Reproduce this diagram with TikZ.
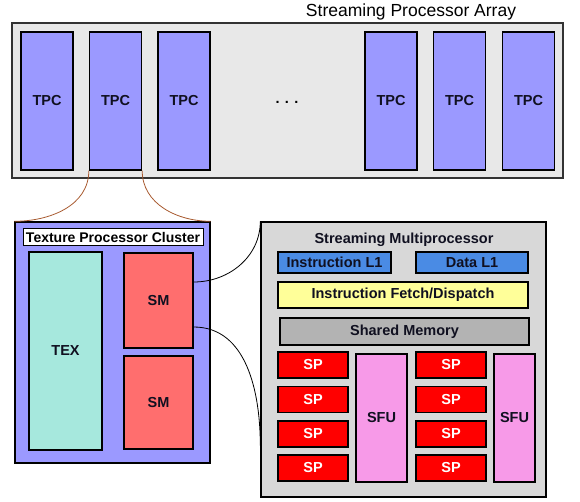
\documentclass[tikz,border=0pt]{standalone}
\usepackage{fontspec}
\setmainfont{Liberation Sans}
\definecolor{spabg}{HTML}{E8E8E8}
\definecolor{tpcfill}{HTML}{9B99FF}
\definecolor{texfill}{HTML}{A6E8DD}
\definecolor{smfill}{HTML}{FF6E6E}
\definecolor{smboxfill}{HTML}{D8D8D8}
\definecolor{l1fill}{HTML}{4A8BE4}
\definecolor{fetchfill}{HTML}{FFFF99}
\definecolor{shfill}{HTML}{B3B3B3}
\definecolor{spfill}{HTML}{FF0000}
\definecolor{sfufill}{HTML}{F79AE8}
\definecolor{zoomline}{HTML}{A85A30}
\definecolor{txtdark}{HTML}{101020}
\begin{document}
\begin{tikzpicture}[x=1pt,y=-1pt,
  box/.style={draw=black, line width=1.4pt, rectangle, inner sep=0pt, text=txtdark,
    font=\fontsize{14.5}{16}\selectfont\bfseries},
  wh/.style 2 args={minimum width=#1pt, minimum height=#2pt},
  tpc/.style={box, fill=tpcfill, wh={52}{138}},
  sp/.style={box, fill=spfill, text=white, wh={70}{26}},
  sfu/.style={box, fill=sfufill},
  zoomc/.style={draw=zoomline, line width=0.8pt},
  blackc/.style={draw=black, line width=0.8pt}]
\useasboundingbox (0,0) rectangle (580,502);
% Streaming Processor Array
\node[draw=black!80, line width=1.4pt, fill=spabg, rectangle, wh={551}{155}] (spa) at (287.5,100.5) {};
\node[font=\fontsize{17.5}{20}\selectfont, inner sep=0pt] (spatitle) at (411,12) {Streaming Processor Array};
\node[tpc] (tpc1) at (47,101) {TPC};
\node[tpc] (tpc2) at (115.5,101) {TPC};
\node[tpc] (tpc3) at (184,101) {TPC};
\node[font=\fontsize{14.5}{16}\selectfont\bfseries, inner sep=0pt] (dots) at (287,102) {. . .};
\node[tpc] (tpc4) at (391,101) {TPC};
\node[tpc] (tpc5) at (459.5,101) {TPC};
\node[tpc] (tpc6) at (528.5,101) {TPC};
% Texture Processor Cluster
\node[box, fill=tpcfill, wh={195}{241}] (tpcc) at (112.5,342.5) {};
\node[draw=black, line width=1pt, fill=white, rectangle, inner sep=0pt, wh={180}{17},
  font=\fontsize{14}{16}\selectfont\bfseries] (tpctitle) at (113,237.5) {Texture Processor Cluster};
\node[box, fill=texfill, wh={73}{198}] (tex) at (65.5,351) {TEX};
\node[box, fill=smfill, wh={69}{95}] (sm1) at (158.5,300.5) {SM};
\node[box, fill=smfill, wh={69}{93}] (sm2) at (158.5,402.5) {SM};
% Streaming Multiprocessor
\node[box, fill=smboxfill, wh={285}{275}] (smbox) at (403.5,359.5) {};
\node[font=\fontsize{14.5}{16}\selectfont\bfseries, inner sep=0pt, text=txtdark] (smtitle) at (404,240) {Streaming Multiprocessor};
\node[box, fill=l1fill, wh={113}{21}] (il1) at (334.5,262.5) {Instruction L1};
\node[box, fill=l1fill, wh={112}{21}] (dl1) at (472,262.5) {Data L1};
\node[box, fill=fetchfill, wh={250}{26}] (fetch) at (403,295) {Instruction Fetch/Dispatch};
\node[box, fill=shfill, wh={249}{27}] (shmem) at (404.5,331.5) {Shared Memory};
\node[sp] (spa1) at (313,365) {SP};
\node[sp] (spa2) at (313,399.5) {SP};
\node[sp] (spa3) at (313,434) {SP};
\node[sp] (spa4) at (313,468) {SP};
\node[sp] (spb1) at (451,365) {SP};
\node[sp] (spb2) at (451,399.5) {SP};
\node[sp] (spb3) at (451,434) {SP};
\node[sp] (spb4) at (451,468) {SP};
\node[sfu, wh={51}{128}] (sfu1) at (381.5,418) {SFU};
\node[sfu, wh={41}{128}] (sfu2) at (514.5,418) {SFU};
% zoom connectors
\draw[zoomc] (tpc2.south west) to[out=-90, in=0] (tpcc.north west);
\draw[zoomc] (tpc2.south east) to[out=-90, in=180] (tpcc.north east);
\draw[blackc] ([yshift=18.5pt]sm1.east) to[out=0, in=-90] (smbox.north west);
\draw[blackc] ([yshift=-26.5pt]sm1.east) to[out=0, in=90] ([yshift=52pt]smbox.south west);
\end{tikzpicture}
\end{document}
